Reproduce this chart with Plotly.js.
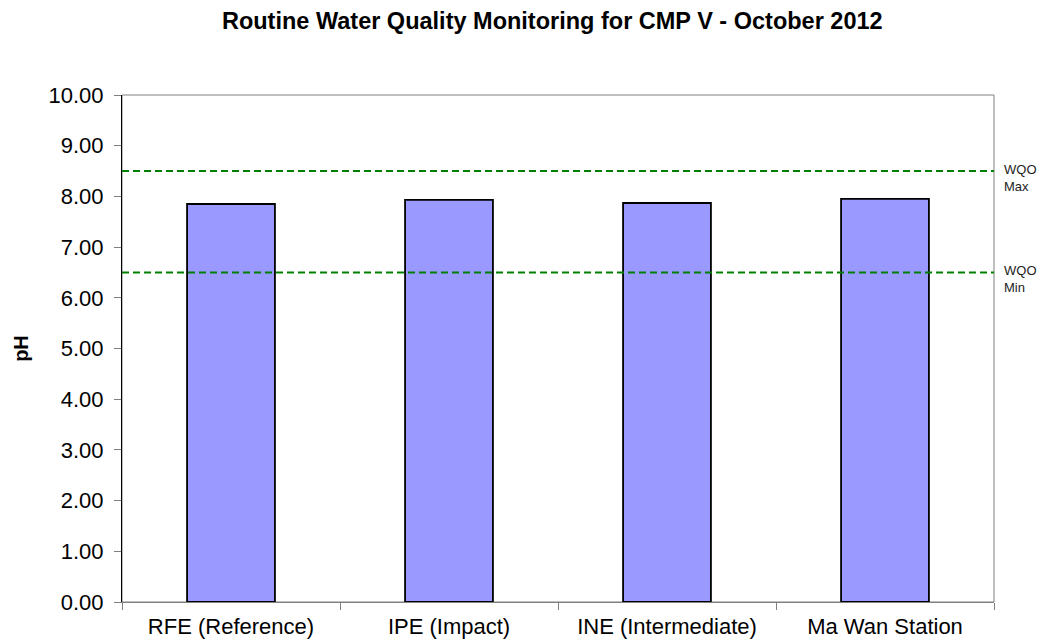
<!DOCTYPE html>
<html>
<head>
<meta charset="utf-8">
<script src="https://cdn.plot.ly/plotly-3.0.1.min.js"></script>
<style>
  body { margin: 0; background: #fff; }
  #chart { width: 1048px; height: 642px; }
</style>
</head>
<body>
<div id="chart"></div>
<script>
const stations = ["RFE (Reference)", "IPE (Impact)", "INE (Intermediate)", "Ma Wan Station"];
const phValues = [7.85, 7.93, 7.87, 7.95];
const wqoMax = 8.5;
const wqoMin = 6.5;

const trace = {
  x: stations,
  y: phValues,
  type: 'bar',
  marker: { color: '#9999FF', line: { color: '#000000', width: 1.8 } },
  hoverinfo: 'x+y',
};

function wqoLine(value) {
  return {
    type: 'line', xref: 'paper', x0: 0, x1: 1, yref: 'y', y0: value, y1: value,
    line: { color: '#008000', width: 2, dash: '7px,4px' },
  };
}

function wqoLabel(value, name) {
  return {
    xref: 'paper', x: 1, xanchor: 'left', xshift: 8,
    yref: 'y', y: value, yanchor: 'top', yshift: 11,
    text: 'WQO<br>' + name, showarrow: false, align: 'left',
    font: { family: 'Liberation Sans, Arial, sans-serif', size: 13, color: '#222222' },
  };
}

const layout = {
  width: 1048,
  height: 642,
  title: {
    text: '<b>Routine Water Quality Monitoring for CMP V - October 2012</b>',
    font: { family: 'Liberation Sans, Arial, sans-serif', size: 23.5, color: '#000' },
    xref: 'container', x: 0.527, xanchor: 'center',
    yref: 'container', y: 0.968, yanchor: 'middle',
  },
  font: { family: 'Liberation Sans, Arial, sans-serif', size: 22, color: '#000' },
  margin: { l: 122, r: 54, t: 95, b: 40 },
  bargap: 0.597,
  showlegend: false,
  xaxis: {
    type: 'category',
    showline: true, linecolor: '#808080', linewidth: 1,
    ticks: 'outside', tickson: 'boundaries', ticklen: 7, tickcolor: '#808080',
    ticklabelstandoff: 5,
    showgrid: false, zeroline: false,
    tickfont: { size: 22 },
  },
  yaxis: {
    range: [0, 10], dtick: 1, tickformat: '.2f',
    showline: true, linecolor: '#000000', linewidth: 1,
    ticks: 'outside', ticklen: 7, tickcolor: '#808080',
    ticklabelstandoff: 6,
    showgrid: false, zeroline: false,
    tickfont: { size: 22 },
    title: { text: '<b>pH</b>', font: { size: 20 }, standoff: 14 },
  },
  shapes: [
    { type: 'rect', xref: 'paper', yref: 'paper', x0: 0, x1: 1, y0: 0, y1: 1,
      line: { color: '#808080', width: 1 }, layer: 'below' },
    wqoLine(wqoMax),
    wqoLine(wqoMin),
  ],
  annotations: [wqoLabel(wqoMax, 'Max'), wqoLabel(wqoMin, 'Min')],
  plot_bgcolor: '#fff',
  paper_bgcolor: '#fff',
};

Plotly.newPlot('chart', [trace], layout, { displayModeBar: false });
</script>
</body>
</html>
